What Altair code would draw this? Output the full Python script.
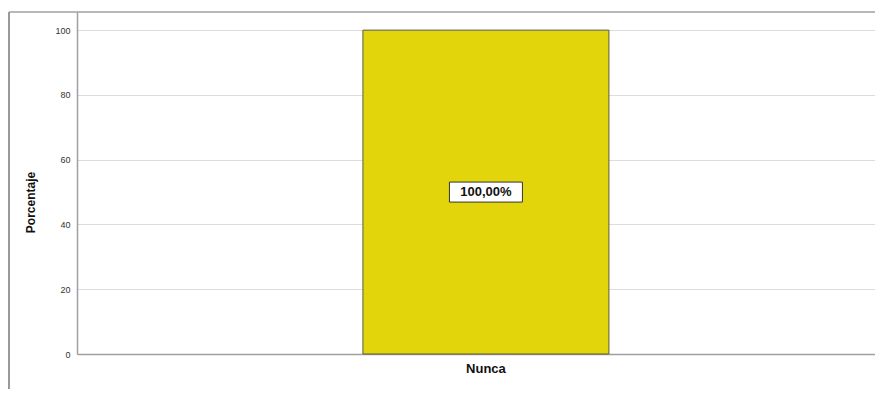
import altair as alt
import pandas as pd

categories = ["Nunca"]
percentages = [100.0]
labels = ["100,00%"]
y_ticks = [0, 20, 40, 60, 80, 100]

df = pd.DataFrame({"categoria": categories, "porcentaje": percentages, "etiqueta": labels})
df["mitad"] = df["porcentaje"] / 2

W, H = 798, 342

xscale = alt.Scale(paddingInner=0.1087, paddingOuter=1, align=0.518)
yscale = alt.Scale(domain=[0, 105.6], nice=False, zero=True)

base = alt.Chart(df)

bars = base.mark_bar(color="#e3d50c", stroke="#5a5a40", strokeWidth=1).encode(
    x=alt.X("categoria:N", scale=xscale,
            axis=alt.Axis(title=None, labelAngle=0, ticks=False, labelFontSize=13,
                          labelFontWeight="bold", labelColor="#111", labelPadding=8,
                          domainColor="#a0a0a0", domainWidth=1.5)),
    y=alt.Y("porcentaje:Q", scale=yscale,
            axis=alt.Axis(title="Porcentaje", values=y_ticks, ticks=False, labelFontSize=9,
                          labelColor="#333", labelPadding=7, grid=True, gridColor="#dcdcdc",
                          domainColor="#a0a0a0", domainWidth=1.5, titleFontSize=12,
                          titleFontWeight="bold", titleColor="#111", titleX=-47, titleY=190,
                          titleAngle=270, titleBaseline="middle", titleAlign="center")),
)

box = base.mark_point(
    shape="M-1,-0.274H1V0.274H-1Z", size=5329, filled=True, fill="white",
    stroke="#333", strokeWidth=1, opacity=1,
).encode(
    x=alt.X("categoria:N", scale=xscale),
    y=alt.Y("mitad:Q", scale=yscale),
)

text = base.mark_text(fontSize=13, fontWeight="bold", color="#111", baseline="middle").encode(
    x=alt.X("categoria:N", scale=xscale),
    y=alt.Y("mitad:Q", scale=yscale),
    text="etiqueta:N",
)

frame_left = base.mark_rule(color="#555", strokeWidth=1.2).encode(
    x=alt.value(-68), y=alt.value(0), y2=alt.value(400)
)
frame_top = base.mark_rule(color="#a0a0a0", strokeWidth=1.5).encode(
    x=alt.value(-68), x2=alt.value(W), y=alt.value(0)
)

chart = alt.layer(bars, box, text, frame_left, frame_top).properties(
    width=W, height=H,
    autosize=alt.AutoSizeParams(type="none"),
    padding={"left": 69, "top": 4, "right": 0, "bottom": 35},
).configure(font="Liberation Sans").configure_view(stroke=None)

chart.save("out.html", embed_options={"renderer": "svg", "actions": False})
